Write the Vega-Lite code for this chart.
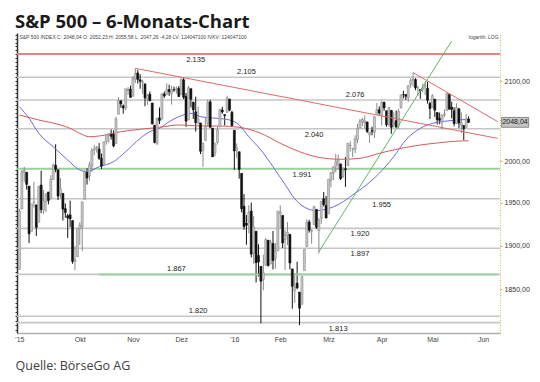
{
  "$schema": "https://vega.github.io/schema/vega-lite/v6.json",
  "width": 483,
  "height": 300,
  "autosize": {"type": "none"},
  "padding": {"left": 17, "top": 33, "right": 40, "bottom": 49},
  "background": "white",
  "title": {"text": "S&P 500 – 6-Monats-Chart", "anchor": "start", "frame": "group", "font": "Open Sans", "fontSize": 18.5, "fontWeight": "bold", "color": "#1a1a1a", "offset": -13, "dx": -2, "baseline": "alphabetic"},
  "config": {"view": {"stroke": null}, "font": "Liberation Sans"},
  "resolve": {"axis": {"y": "independent"}, "scale": {"color": "independent"}},
  "datasets": {
    "levels": [
      {"level": 2135, "t": "2.135", "d": "2015-12-09"},
      {"level": 2105, "t": "2.105", "d": "2016-01-11"},
      {"level": 2076, "t": "2.076", "d": "2016-03-16"},
      {"level": 2040, "t": "2.040", "d": "2016-02-22"},
      {"level": 1991, "t": "1.991", "d": "2016-02-12"},
      {"level": 1955, "t": "1.955", "d": "2016-04-01"},
      {"level": 1920, "t": "1.920", "d": "2016-03-18"},
      {"level": 1897, "t": "1.897", "d": "2016-03-18"},
      {"level": 1867, "t": "1.867", "d": "2015-11-27"},
      {"level": 1820, "t": "1.820", "d": "2015-12-10"},
      {"level": 1813, "t": "1.813", "d": "2016-03-07"}
    ],
    "ma": [
      {"s": "MA kurz", "d": "2015-08-26", "v": 2067.6}, {"s": "MA kurz", "d": "2015-09-01", "v": 2053.1}, {"s": "MA kurz", "d": "2015-09-08", "v": 2034.4}, {"s": "MA kurz", "d": "2015-09-16", "v": 2017.9}, {"s": "MA kurz", "d": "2015-09-24", "v": 2001.6}, {"s": "MA kurz", "d": "2015-10-01", "v": 1989.5}, {"s": "MA kurz", "d": "2015-10-06", "v": 1987.5}, {"s": "MA kurz", "d": "2015-10-13", "v": 1993.5}, {"s": "MA kurz", "d": "2015-10-21", "v": 1999.6}, {"s": "MA kurz", "d": "2015-10-28", "v": 2011.8}, {"s": "MA kurz", "d": "2015-11-05", "v": 2028.2}, {"s": "MA kurz", "d": "2015-11-11", "v": 2036.4}, {"s": "MA kurz", "d": "2015-11-17", "v": 2040.6}, {"s": "MA kurz", "d": "2015-11-23", "v": 2048.9}, {"s": "MA kurz", "d": "2015-11-30", "v": 2055.1}, {"s": "MA kurz", "d": "2015-12-07", "v": 2059.3}, {"s": "MA kurz", "d": "2015-12-11", "v": 2055.1}, {"s": "MA kurz", "d": "2015-12-18", "v": 2053.5}, {"s": "MA kurz", "d": "2015-12-30", "v": 2051.0}, {"s": "MA kurz", "d": "2016-01-06", "v": 2044.8}, {"s": "MA kurz", "d": "2016-01-12", "v": 2030.2}, {"s": "MA kurz", "d": "2016-01-20", "v": 2013.8}, {"s": "MA kurz", "d": "2016-01-27", "v": 1993.5}, {"s": "MA kurz", "d": "2016-02-03", "v": 1972.0}, {"s": "MA kurz", "d": "2016-02-09", "v": 1955.0}, {"s": "MA kurz", "d": "2016-02-16", "v": 1945.0}, {"s": "MA kurz", "d": "2016-02-23", "v": 1940.9}, {"s": "MA kurz", "d": "2016-02-29", "v": 1942.5}, {"s": "MA kurz", "d": "2016-03-08", "v": 1949.6}, {"s": "MA kurz", "d": "2016-03-15", "v": 1959.5}, {"s": "MA kurz", "d": "2016-03-18", "v": 1965.5}, {"s": "MA kurz", "d": "2016-03-31", "v": 1985.5}, {"s": "MA kurz", "d": "2016-04-08", "v": 2005.7}, {"s": "MA kurz", "d": "2016-04-15", "v": 2026.2}, {"s": "MA kurz", "d": "2016-04-25", "v": 2040.6}, {"s": "MA kurz", "d": "2016-05-02", "v": 2046.8}, {"s": "MA kurz", "d": "2016-05-10", "v": 2049.7}, {"s": "MA kurz", "d": "2016-05-17", "v": 2051.0}, {"s": "MA kurz", "d": "2016-05-23", "v": 2051.9},
      {"s": "MA 200", "d": "2015-08-26", "v": 2057.2}, {"s": "MA 200", "d": "2015-09-08", "v": 2051.0}, {"s": "MA 200", "d": "2015-09-21", "v": 2044.8}, {"s": "MA 200", "d": "2015-09-25", "v": 2040.6}, {"s": "MA 200", "d": "2015-10-01", "v": 2034.4}, {"s": "MA 200", "d": "2015-10-07", "v": 2030.2}, {"s": "MA 200", "d": "2015-10-13", "v": 2031.1}, {"s": "MA 200", "d": "2015-10-26", "v": 2036.4}, {"s": "MA 200", "d": "2015-11-05", "v": 2039.4}, {"s": "MA 200", "d": "2015-11-17", "v": 2041.9}, {"s": "MA 200", "d": "2015-11-30", "v": 2044.8}, {"s": "MA 200", "d": "2015-12-11", "v": 2043.5}, {"s": "MA 200", "d": "2015-12-23", "v": 2043.5}, {"s": "MA 200", "d": "2016-01-06", "v": 2041.9}, {"s": "MA 200", "d": "2016-01-20", "v": 2034.4}, {"s": "MA 200", "d": "2016-02-01", "v": 2022.1}, {"s": "MA 200", "d": "2016-02-11", "v": 2011.8}, {"s": "MA 200", "d": "2016-02-24", "v": 2004.9}, {"s": "MA 200", "d": "2016-03-08", "v": 2002.5}, {"s": "MA 200", "d": "2016-03-18", "v": 2003.7}, {"s": "MA 200", "d": "2016-03-31", "v": 2009.8}, {"s": "MA 200", "d": "2016-04-13", "v": 2015.9}, {"s": "MA 200", "d": "2016-04-25", "v": 2020.0}, {"s": "MA 200", "d": "2016-05-05", "v": 2022.8}, {"s": "MA 200", "d": "2016-05-17", "v": 2024.9}, {"s": "MA 200", "d": "2016-05-23", "v": 2025.2}
    ],
    "trend": [
      {"s": "Abwärtstrend 1", "d": "2015-11-03", "v": 2116.5}, {"s": "Abwärtstrend 1", "d": "2016-06-09", "v": 2028.2},
      {"s": "Abwärtstrend 2", "d": "2016-04-20", "v": 2111.0}, {"s": "Abwärtstrend 2", "d": "2016-06-09", "v": 2049.0},
      {"s": "Aufwärtstrend", "d": "2016-02-24", "v": 1893.0}, {"s": "Aufwärtstrend", "d": "2016-05-12", "v": 2152.0}
    ],
    "ohlc": [
      {"d":"2015-08-26","o":1872.75,"h":1943.09,"l":1872.75,"c":1940.51},
      {"d":"2015-08-27","o":1942.77,"h":1989.60,"l":1942.77,"c":1987.66},
      {"d":"2015-08-28","o":1986.06,"h":1993.48,"l":1975.19,"c":1988.87},
      {"d":"2015-08-31","o":1986.73,"h":1986.73,"l":1965.98,"c":1972.18},
      {"d":"2015-09-01","o":1970.09,"h":1970.09,"l":1903.07,"c":1913.85},
      {"d":"2015-09-02","o":1916.52,"h":1948.91,"l":1916.52,"c":1948.86},
      {"d":"2015-09-03","o":1950.79,"h":1975.01,"l":1944.72,"c":1951.13},
      {"d":"2015-09-04","o":1947.76,"h":1947.76,"l":1911.21,"c":1921.22},
      {"d":"2015-09-08","o":1927.30,"h":1970.42,"l":1927.30,"c":1969.41},
      {"d":"2015-09-09","o":1971.45,"h":1988.63,"l":1937.88,"c":1942.04},
      {"d":"2015-09-10","o":1941.59,"h":1965.29,"l":1937.19,"c":1952.29},
      {"d":"2015-09-11","o":1951.45,"h":1961.05,"l":1939.19,"c":1961.05},
      {"d":"2015-09-14","o":1963.06,"h":1963.06,"l":1948.27,"c":1953.03},
      {"d":"2015-09-15","o":1955.10,"h":1983.19,"l":1954.30,"c":1978.09},
      {"d":"2015-09-16","o":1978.02,"h":1997.26,"l":1977.93,"c":1995.31},
      {"d":"2015-09-17","o":1995.33,"h":2020.86,"l":1986.73,"c":1990.20},
      {"d":"2015-09-18","o":1989.66,"h":1989.66,"l":1953.45,"c":1958.03},
      {"d":"2015-09-21","o":1960.84,"h":1979.64,"l":1955.80,"c":1966.97},
      {"d":"2015-09-22","o":1961.39,"h":1961.39,"l":1929.22,"c":1942.74},
      {"d":"2015-09-23","o":1943.24,"h":1949.52,"l":1932.57,"c":1938.76},
      {"d":"2015-09-24","o":1934.81,"h":1937.17,"l":1908.92,"c":1932.24},
      {"d":"2015-09-25","o":1935.93,"h":1952.89,"l":1921.50,"c":1931.34},
      {"d":"2015-09-28","o":1929.18,"h":1929.18,"l":1879.21,"c":1881.77},
      {"d":"2015-09-29","o":1881.90,"h":1899.48,"l":1871.91,"c":1884.09},
      {"d":"2015-09-30","o":1887.14,"h":1920.53,"l":1887.14,"c":1920.03},
      {"d":"2015-10-01","o":1919.65,"h":1927.21,"l":1900.70,"c":1923.82},
      {"d":"2015-10-02","o":1921.77,"h":1951.36,"l":1893.70,"c":1951.36},
      {"d":"2015-10-05","o":1954.33,"h":1989.17,"l":1954.33,"c":1987.05},
      {"d":"2015-10-06","o":1986.63,"h":1991.62,"l":1971.99,"c":1979.92},
      {"d":"2015-10-07","o":1982.34,"h":1999.31,"l":1976.44,"c":1995.83},
      {"d":"2015-10-08","o":1994.01,"h":2016.50,"l":1987.53,"c":2013.43},
      {"d":"2015-10-09","o":2013.73,"h":2020.13,"l":2007.61,"c":2014.89},
      {"d":"2015-10-12","o":2015.65,"h":2018.66,"l":2010.55,"c":2017.46},
      {"d":"2015-10-13","o":2015.00,"h":2022.34,"l":2001.78,"c":2003.69},
      {"d":"2015-10-14","o":2003.66,"h":2009.56,"l":1990.73,"c":1994.24},
      {"d":"2015-10-15","o":1996.47,"h":2024.15,"l":1996.47,"c":2023.86},
      {"d":"2015-10-16","o":2024.37,"h":2033.54,"l":2020.46,"c":2033.11},
      {"d":"2015-10-19","o":2031.73,"h":2034.45,"l":2022.31,"c":2033.66},
      {"d":"2015-10-20","o":2033.13,"h":2039.12,"l":2026.61,"c":2030.77},
      {"d":"2015-10-21","o":2033.47,"h":2037.97,"l":2017.22,"c":2018.94},
      {"d":"2015-10-22","o":2021.88,"h":2055.20,"l":2021.88,"c":2052.51},
      {"d":"2015-10-23","o":2058.19,"h":2079.74,"l":2058.19,"c":2075.15},
      {"d":"2015-10-26","o":2075.08,"h":2075.14,"l":2066.53,"c":2071.18},
      {"d":"2015-10-27","o":2068.75,"h":2070.37,"l":2058.84,"c":2065.89},
      {"d":"2015-10-28","o":2066.48,"h":2090.35,"l":2063.11,"c":2090.35},
      {"d":"2015-10-29","o":2088.35,"h":2092.52,"l":2082.63,"c":2089.41},
      {"d":"2015-10-30","o":2090.00,"h":2094.32,"l":2079.34,"c":2079.36},
      {"d":"2015-11-02","o":2080.76,"h":2106.20,"l":2080.76,"c":2104.05},
      {"d":"2015-11-03","o":2102.63,"h":2116.48,"l":2097.51,"c":2109.79},
      {"d":"2015-11-04","o":2110.60,"h":2114.59,"l":2096.98,"c":2102.31},
      {"d":"2015-11-05","o":2101.68,"h":2108.78,"l":2090.41,"c":2099.93},
      {"d":"2015-11-06","o":2098.60,"h":2101.91,"l":2083.74,"c":2099.20},
      {"d":"2015-11-09","o":2096.56,"h":2096.56,"l":2068.24,"c":2078.58},
      {"d":"2015-11-10","o":2077.19,"h":2083.67,"l":2069.91,"c":2081.72},
      {"d":"2015-11-11","o":2083.41,"h":2086.94,"l":2074.85,"c":2075.00},
      {"d":"2015-11-12","o":2072.29,"h":2072.29,"l":2045.66,"c":2045.97},
      {"d":"2015-11-13","o":2044.64,"h":2044.64,"l":2022.02,"c":2023.04},
      {"d":"2015-11-16","o":2022.08,"h":2053.22,"l":2019.94,"c":2053.19},
      {"d":"2015-11-17","o":2053.67,"h":2066.69,"l":2045.90,"c":2050.44},
      {"d":"2015-11-18","o":2051.99,"h":2085.31,"l":2051.99,"c":2083.58},
      {"d":"2015-11-19","o":2083.70,"h":2086.74,"l":2078.76,"c":2081.24},
      {"d":"2015-11-20","o":2082.82,"h":2097.06,"l":2082.82,"c":2089.17},
      {"d":"2015-11-23","o":2089.41,"h":2095.61,"l":2081.39,"c":2086.59},
      {"d":"2015-11-24","o":2084.42,"h":2094.12,"l":2070.29,"c":2089.14},
      {"d":"2015-11-25","o":2089.30,"h":2093.00,"l":2086.30,"c":2088.87},
      {"d":"2015-11-27","o":2088.82,"h":2093.29,"l":2084.13,"c":2090.11},
      {"d":"2015-11-30","o":2090.95,"h":2093.81,"l":2080.41,"c":2080.41},
      {"d":"2015-12-01","o":2082.93,"h":2103.37,"l":2082.93,"c":2102.63},
      {"d":"2015-12-02","o":2101.71,"h":2104.27,"l":2077.11,"c":2079.51},
      {"d":"2015-12-03","o":2080.71,"h":2085.00,"l":2042.35,"c":2049.62},
      {"d":"2015-12-04","o":2051.24,"h":2093.84,"l":2051.24,"c":2091.69},
      {"d":"2015-12-07","o":2090.42,"h":2090.42,"l":2066.78,"c":2077.07},
      {"d":"2015-12-08","o":2073.39,"h":2073.85,"l":2052.32,"c":2063.59},
      {"d":"2015-12-09","o":2061.17,"h":2080.33,"l":2036.53,"c":2047.62},
      {"d":"2015-12-10","o":2047.93,"h":2067.65,"l":2045.67,"c":2052.23},
      {"d":"2015-12-11","o":2047.27,"h":2047.27,"l":2008.80,"c":2012.37},
      {"d":"2015-12-14","o":2013.37,"h":2022.92,"l":1993.26,"c":2021.94},
      {"d":"2015-12-15","o":2025.55,"h":2053.87,"l":2025.55,"c":2043.41},
      {"d":"2015-12-16","o":2046.50,"h":2076.72,"l":2042.43,"c":2073.07},
      {"d":"2015-12-17","o":2073.76,"h":2076.37,"l":2041.66,"c":2041.89},
      {"d":"2015-12-18","o":2040.81,"h":2040.81,"l":2005.33,"c":2005.55},
      {"d":"2015-12-21","o":2010.27,"h":2022.90,"l":2005.93,"c":2021.15},
      {"d":"2015-12-22","o":2023.15,"h":2042.74,"l":2020.49,"c":2038.97},
      {"d":"2015-12-23","o":2042.20,"h":2064.73,"l":2042.20,"c":2064.29},
      {"d":"2015-12-24","o":2063.52,"h":2067.36,"l":2058.73,"c":2060.99},
      {"d":"2015-12-28","o":2057.77,"h":2057.77,"l":2044.20,"c":2056.50},
      {"d":"2015-12-29","o":2060.54,"h":2081.56,"l":2060.54,"c":2078.36},
      {"d":"2015-12-30","o":2077.34,"h":2077.34,"l":2061.97,"c":2063.36},
      {"d":"2015-12-31","o":2060.59,"h":2062.54,"l":2043.62,"c":2043.94},
      {"d":"2016-01-04","o":2038.20,"h":2038.20,"l":1989.68,"c":2012.66},
      {"d":"2016-01-05","o":2013.78,"h":2021.94,"l":2004.17,"c":2016.71},
      {"d":"2016-01-06","o":2011.71,"h":2011.71,"l":1979.05,"c":1990.26},
      {"d":"2016-01-07","o":1985.32,"h":1985.32,"l":1938.83,"c":1943.09},
      {"d":"2016-01-08","o":1945.97,"h":1960.40,"l":1918.46,"c":1922.03},
      {"d":"2016-01-11","o":1926.12,"h":1935.65,"l":1901.10,"c":1923.67},
      {"d":"2016-01-12","o":1927.83,"h":1947.38,"l":1914.35,"c":1938.68},
      {"d":"2016-01-13","o":1940.34,"h":1950.33,"l":1886.41,"c":1890.28},
      {"d":"2016-01-14","o":1891.68,"h":1934.47,"l":1878.93,"c":1921.84},
      {"d":"2016-01-15","o":1916.68,"h":1916.68,"l":1857.83,"c":1880.33},
      {"d":"2016-01-19","o":1888.66,"h":1901.44,"l":1864.60,"c":1881.33},
      {"d":"2016-01-20","o":1876.18,"h":1876.18,"l":1812.29,"c":1859.33},
      {"d":"2016-01-21","o":1861.46,"h":1889.85,"l":1848.98,"c":1868.99},
      {"d":"2016-01-22","o":1877.40,"h":1908.85,"l":1877.40,"c":1906.90},
      {"d":"2016-01-25","o":1906.28,"h":1906.28,"l":1875.97,"c":1877.08},
      {"d":"2016-01-26","o":1878.79,"h":1906.73,"l":1878.79,"c":1903.63},
      {"d":"2016-01-27","o":1902.52,"h":1916.99,"l":1872.70,"c":1882.95},
      {"d":"2016-01-28","o":1885.22,"h":1902.96,"l":1873.65,"c":1893.36},
      {"d":"2016-01-29","o":1894.00,"h":1940.24,"l":1894.00,"c":1940.24},
      {"d":"2016-02-01","o":1936.94,"h":1947.20,"l":1920.03,"c":1939.38},
      {"d":"2016-02-02","o":1935.26,"h":1935.26,"l":1897.29,"c":1903.03},
      {"d":"2016-02-03","o":1907.07,"h":1918.01,"l":1872.23,"c":1912.53},
      {"d":"2016-02-04","o":1911.67,"h":1927.35,"l":1900.52,"c":1915.45},
      {"d":"2016-02-05","o":1913.07,"h":1913.07,"l":1872.65,"c":1880.05},
      {"d":"2016-02-08","o":1873.25,"h":1873.25,"l":1828.46,"c":1853.44},
      {"d":"2016-02-09","o":1848.46,"h":1868.25,"l":1834.94,"c":1852.21},
      {"d":"2016-02-10","o":1857.10,"h":1881.60,"l":1850.32,"c":1851.86},
      {"d":"2016-02-11","o":1847.00,"h":1847.00,"l":1810.10,"c":1829.08},
      {"d":"2016-02-12","o":1833.40,"h":1864.78,"l":1833.40,"c":1864.78},
      {"d":"2016-02-16","o":1871.44,"h":1895.77,"l":1871.44,"c":1895.58},
      {"d":"2016-02-17","o":1898.80,"h":1930.68,"l":1898.80,"c":1926.82},
      {"d":"2016-02-18","o":1927.57,"h":1930.00,"l":1915.09,"c":1917.83},
      {"d":"2016-02-19","o":1916.74,"h":1918.78,"l":1902.17,"c":1917.78},
      {"d":"2016-02-22","o":1924.44,"h":1946.70,"l":1924.44,"c":1945.50},
      {"d":"2016-02-23","o":1942.38,"h":1942.38,"l":1919.44,"c":1921.27},
      {"d":"2016-02-24","o":1917.56,"h":1932.08,"l":1891.00,"c":1929.80},
      {"d":"2016-02-25","o":1931.87,"h":1951.83,"l":1925.41,"c":1951.70},
      {"d":"2016-02-26","o":1954.95,"h":1962.96,"l":1945.78,"c":1948.05},
      {"d":"2016-02-29","o":1947.13,"h":1958.27,"l":1931.81,"c":1932.23},
      {"d":"2016-03-01","o":1937.09,"h":1978.35,"l":1937.09,"c":1978.35},
      {"d":"2016-03-02","o":1976.60,"h":1986.51,"l":1968.80,"c":1986.45},
      {"d":"2016-03-03","o":1985.60,"h":1993.69,"l":1977.37,"c":1993.40},
      {"d":"2016-03-04","o":1994.01,"h":2009.13,"l":1986.77,"c":1999.99},
      {"d":"2016-03-07","o":1996.11,"h":2008.16,"l":1989.30,"c":2001.76},
      {"d":"2016-03-08","o":1996.88,"h":1996.88,"l":1977.43,"c":1979.26},
      {"d":"2016-03-09","o":1981.44,"h":1992.69,"l":1979.84,"c":1989.26},
      {"d":"2016-03-10","o":1990.97,"h":2005.08,"l":1969.25,"c":1989.57},
      {"d":"2016-03-11","o":1994.71,"h":2022.37,"l":1994.71,"c":2022.19},
      {"d":"2016-03-14","o":2019.27,"h":2024.57,"l":2012.05,"c":2019.64},
      {"d":"2016-03-15","o":2015.27,"h":2015.94,"l":2005.23,"c":2015.93},
      {"d":"2016-03-16","o":2014.24,"h":2032.02,"l":2010.04,"c":2027.22},
      {"d":"2016-03-17","o":2026.90,"h":2046.24,"l":2022.16,"c":2040.59},
      {"d":"2016-03-18","o":2041.16,"h":2052.36,"l":2041.16,"c":2049.58},
      {"d":"2016-03-21","o":2048.64,"h":2053.91,"l":2043.14,"c":2051.60},
      {"d":"2016-03-22","o":2047.21,"h":2056.60,"l":2040.57,"c":2049.80},
      {"d":"2016-03-23","o":2048.55,"h":2048.55,"l":2034.86,"c":2036.71},
      {"d":"2016-03-24","o":2032.48,"h":2036.04,"l":2022.49,"c":2035.94},
      {"d":"2016-03-28","o":2037.89,"h":2042.67,"l":2031.96,"c":2037.05},
      {"d":"2016-03-29","o":2035.75,"h":2055.91,"l":2028.31,"c":2055.01},
      {"d":"2016-03-30","o":2058.27,"h":2072.21,"l":2058.27,"c":2063.95},
      {"d":"2016-03-31","o":2063.77,"h":2067.92,"l":2057.46,"c":2059.74},
      {"d":"2016-04-01","o":2056.62,"h":2075.07,"l":2043.98,"c":2072.78},
      {"d":"2016-04-04","o":2073.19,"h":2074.02,"l":2062.57,"c":2066.13},
      {"d":"2016-04-05","o":2062.50,"h":2062.50,"l":2042.56,"c":2045.17},
      {"d":"2016-04-06","o":2045.56,"h":2067.33,"l":2043.09,"c":2066.66},
      {"d":"2016-04-07","o":2063.01,"h":2063.01,"l":2033.80,"c":2041.91},
      {"d":"2016-04-08","o":2045.54,"h":2060.63,"l":2041.69,"c":2047.60},
      {"d":"2016-04-11","o":2050.23,"h":2062.93,"l":2041.88,"c":2041.99},
      {"d":"2016-04-12","o":2043.72,"h":2065.05,"l":2039.74,"c":2061.72},
      {"d":"2016-04-13","o":2065.92,"h":2083.18,"l":2065.92,"c":2082.42},
      {"d":"2016-04-14","o":2082.89,"h":2087.84,"l":2078.13,"c":2082.78},
      {"d":"2016-04-15","o":2083.10,"h":2083.22,"l":2076.31,"c":2080.73},
      {"d":"2016-04-18","o":2078.83,"h":2094.66,"l":2073.65,"c":2094.34},
      {"d":"2016-04-19","o":2096.05,"h":2104.05,"l":2091.68,"c":2100.80},
      {"d":"2016-04-20","o":2101.52,"h":2111.05,"l":2093.11,"c":2102.40},
      {"d":"2016-04-21","o":2102.09,"h":2103.78,"l":2088.52,"c":2091.48},
      {"d":"2016-04-22","o":2091.49,"h":2094.32,"l":2081.20,"c":2091.58},
      {"d":"2016-04-25","o":2089.37,"h":2089.37,"l":2077.52,"c":2087.79},
      {"d":"2016-04-26","o":2089.84,"h":2096.87,"l":2085.80,"c":2091.70},
      {"d":"2016-04-27","o":2092.57,"h":2099.89,"l":2082.31,"c":2095.15},
      {"d":"2016-04-28","o":2090.93,"h":2099.30,"l":2071.62,"c":2075.81},
      {"d":"2016-04-29","o":2071.82,"h":2073.85,"l":2052.28,"c":2065.30},
      {"d":"2016-05-02","o":2067.17,"h":2083.42,"l":2066.11,"c":2081.43},
      {"d":"2016-05-03","o":2077.18,"h":2077.18,"l":2054.89,"c":2063.37},
      {"d":"2016-05-04","o":2060.30,"h":2060.30,"l":2045.55,"c":2051.12},
      {"d":"2016-05-05","o":2052.95,"h":2060.23,"l":2045.77,"c":2050.63},
      {"d":"2016-05-06","o":2047.77,"h":2057.72,"l":2039.45,"c":2057.14},
      {"d":"2016-05-09","o":2057.55,"h":2064.15,"l":2054.31,"c":2058.69},
      {"d":"2016-05-10","o":2062.63,"h":2084.87,"l":2062.63,"c":2084.39},
      {"d":"2016-05-11","o":2083.29,"h":2083.29,"l":2064.46,"c":2064.46},
      {"d":"2016-05-12","o":2067.17,"h":2073.99,"l":2053.13,"c":2064.11},
      {"d":"2016-05-13","o":2062.50,"h":2066.79,"l":2043.13,"c":2046.61},
      {"d":"2016-05-16","o":2046.53,"h":2071.88,"l":2046.53,"c":2066.66},
      {"d":"2016-05-17","o":2065.04,"h":2065.69,"l":2040.82,"c":2047.21},
      {"d":"2016-05-18","o":2044.38,"h":2060.61,"l":2034.49,"c":2047.63},
      {"d":"2016-05-19","o":2044.21,"h":2044.21,"l":2025.91,"c":2040.04},
      {"d":"2016-05-20","o":2041.88,"h":2058.35,"l":2041.88,"c":2052.32},
      {"d":"2016-05-23","o":2052.23,"h":2055.58,"l":2047.26,"c":2048.04}
    ]
  },
  "layer": [
    {
      "data": {"name": "levels"},
      "transform": [{"filter": {"not": {"field": "level", "oneOf": [2135, 1991]}}}],
      "mark": {"type": "rule", "color": "#c6c6c6", "strokeWidth": 1.6},
      "encoding": {
        "y": {"field": "level", "type": "quantitative", "scale": {"type": "log", "domain": [1801.6, 2162.5], "nice": false, "zero": false},
              "axis": {"orient": "left", "labels": false, "title": null, "grid": false, "domainColor": "#333333", "domainWidth": 1.5, "tickColor": "#333333", "tickSize": 2, "tickCount": 80}}
      }
    },
    {
      "data": {"name": "levels"},
      "transform": [{"filter": {"field": "level", "equal": 2135}}],
      "mark": {"type": "rule", "color": "#e08484", "strokeWidth": 2},
      "encoding": {
        "y": {"field": "level", "type": "quantitative", "scale": {"type": "log", "domain": [1801.6, 2162.5], "nice": false, "zero": false}, "axis": null}
      }
    },
    {
      "data": {"name": "levels"},
      "transform": [{"filter": {"field": "level", "equal": 1991}}],
      "mark": {"type": "rule", "color": "#9ccf9c", "strokeWidth": 2},
      "encoding": {
        "y": {"field": "level", "type": "quantitative", "scale": {"type": "log", "domain": [1801.6, 2162.5], "nice": false, "zero": false}, "axis": null}
      }
    },
    {
      "data": {"name": "ohlc"},
      "mark": {"type": "rule", "strokeWidth": 1},
      "encoding": {
        "x": {"field": "d", "type": "ordinal",
              "scale": {"type": "point", "padding": 1, "domain": ["2015-08-26","2015-08-27","2015-08-28","2015-08-31","2015-09-01","2015-09-02","2015-09-03","2015-09-04","2015-09-08","2015-09-09","2015-09-10","2015-09-11","2015-09-14","2015-09-15","2015-09-16","2015-09-17","2015-09-18","2015-09-21","2015-09-22","2015-09-23","2015-09-24","2015-09-25","2015-09-28","2015-09-29","2015-09-30","2015-10-01","2015-10-02","2015-10-05","2015-10-06","2015-10-07","2015-10-08","2015-10-09","2015-10-12","2015-10-13","2015-10-14","2015-10-15","2015-10-16","2015-10-19","2015-10-20","2015-10-21","2015-10-22","2015-10-23","2015-10-26","2015-10-27","2015-10-28","2015-10-29","2015-10-30","2015-11-02","2015-11-03","2015-11-04","2015-11-05","2015-11-06","2015-11-09","2015-11-10","2015-11-11","2015-11-12","2015-11-13","2015-11-16","2015-11-17","2015-11-18","2015-11-19","2015-11-20","2015-11-23","2015-11-24","2015-11-25","2015-11-27","2015-11-30","2015-12-01","2015-12-02","2015-12-03","2015-12-04","2015-12-07","2015-12-08","2015-12-09","2015-12-10","2015-12-11","2015-12-14","2015-12-15","2015-12-16","2015-12-17","2015-12-18","2015-12-21","2015-12-22","2015-12-23","2015-12-24","2015-12-28","2015-12-29","2015-12-30","2015-12-31","2016-01-04","2016-01-05","2016-01-06","2016-01-07","2016-01-08","2016-01-11","2016-01-12","2016-01-13","2016-01-14","2016-01-15","2016-01-19","2016-01-20","2016-01-21","2016-01-22","2016-01-25","2016-01-26","2016-01-27","2016-01-28","2016-01-29","2016-02-01","2016-02-02","2016-02-03","2016-02-04","2016-02-05","2016-02-08","2016-02-09","2016-02-10","2016-02-11","2016-02-12","2016-02-16","2016-02-17","2016-02-18","2016-02-19","2016-02-22","2016-02-23","2016-02-24","2016-02-25","2016-02-26","2016-02-29","2016-03-01","2016-03-02","2016-03-03","2016-03-04","2016-03-07","2016-03-08","2016-03-09","2016-03-10","2016-03-11","2016-03-14","2016-03-15","2016-03-16","2016-03-17","2016-03-18","2016-03-21","2016-03-22","2016-03-23","2016-03-24","2016-03-28","2016-03-29","2016-03-30","2016-03-31","2016-04-01","2016-04-04","2016-04-05","2016-04-06","2016-04-07","2016-04-08","2016-04-11","2016-04-12","2016-04-13","2016-04-14","2016-04-15","2016-04-18","2016-04-19","2016-04-20","2016-04-21","2016-04-22","2016-04-25","2016-04-26","2016-04-27","2016-04-28","2016-04-29","2016-05-02","2016-05-03","2016-05-04","2016-05-05","2016-05-06","2016-05-09","2016-05-10","2016-05-11","2016-05-12","2016-05-13","2016-05-16","2016-05-17","2016-05-18","2016-05-19","2016-05-20","2016-05-23","2016-05-24","2016-05-25","2016-05-26","2016-05-27","2016-05-31","2016-06-01","2016-06-02","2016-06-03","2016-06-06","2016-06-07","2016-06-08","2016-06-09"]},
              "axis": {"values": ["2015-08-26","2015-10-01","2015-11-02","2015-12-01","2016-01-04","2016-02-01","2016-03-01","2016-04-01","2016-05-02","2016-06-01"],
                       "labelExpr": "datum.value == '2015-08-26' ? \"'15\" : datum.value == '2016-01-04' ? \"'16\" : ['Jan','Feb','Mrz','Apr','Mai','Jun','Jul','Aug','Sep','Okt','Nov','Dez'][toNumber(slice(datum.value, 5, 7)) - 1]",
                       "labelAngle": 0, "labelOverlap": false, "labelFontSize": 7, "labelFont": "Liberation Sans", "labelColor": "#444444", "labelPadding": 2,
                       "ticks": false, "grid": false, "domainColor": "#b0b0b0", "domainWidth": 1.5,
                       "title": "Quelle: BörseGo AG", "titleFont": "Open Sans", "titleFontSize": 12.5, "titleFontWeight": "normal", "titleColor": "#404040",
                       "titleAnchor": "start", "titleAlign": "left", "titleX": -2, "titleY": 36, "titleBaseline": "alphabetic"}},
        "y": {"field": "l", "type": "quantitative", "scale": {"type": "log", "domain": [1801.6, 2162.5], "nice": false, "zero": false},
              "axis": {"orient": "right", "values": [1850, 1900, 1950, 2000, 2100], "labelExpr": "replace(format(datum.value, '.2f'), '.', ',')", "title": null, "grid": false,
                       "domainColor": "#d4b24c", "domainDash": [1, 1.5], "domainWidth": 1, "tickColor": "#d4b24c", "tickSize": 2,
                       "labelFontSize": 7, "labelFont": "Liberation Sans", "labelColor": "#333333", "labelPadding": 2}},
        "y2": {"field": "h"},
        "color": {"condition": {"test": "datum.c >= datum.o", "value": "#8a8a8a"}, "value": "#111111"}
      }
    },
    {
      "data": {"name": "levels"},
      "transform": [{"filter": {"field": "level", "equal": 1867}}],
      "mark": {"type": "rule", "color": "#9ccf9c", "strokeWidth": 2},
      "encoding": {
        "x": {"datum": "2015-10-13", "type": "ordinal", "scale": {"type": "point", "padding": 1}},
        "x2": {"datum": "2016-06-09"},
        "y": {"field": "level", "type": "quantitative", "scale": {"type": "log", "domain": [1801.6, 2162.5], "nice": false, "zero": false}, "axis": null}
      }
    },
    {
      "data": {"name": "ma"},
      "mark": {"type": "line", "strokeWidth": 1, "interpolate": "monotone"},
      "encoding": {
        "x": {"field": "d", "type": "ordinal", "scale": {"type": "point", "padding": 1}},
        "y": {"field": "v", "type": "quantitative", "scale": {"type": "log", "domain": [1801.6, 2162.5], "nice": false, "zero": false}, "axis": null},
        "color": {"field": "s", "type": "nominal", "scale": {"domain": ["MA kurz", "MA 200"], "range": ["#6a6ad8", "#d65a5a"]}, "legend": null}
      }
    },
    {
      "data": {"name": "ohlc"},
      "mark": {"type": "bar", "size": 2, "strokeWidth": 0.6},
      "encoding": {
        "x": {"field": "d", "type": "ordinal", "scale": {"type": "point", "padding": 1}},
        "y": {"field": "o", "type": "quantitative", "scale": {"type": "log", "domain": [1801.6, 2162.5], "nice": false, "zero": false}, "axis": null},
        "y2": {"field": "c"},
        "fill": {"condition": {"test": "datum.c >= datum.o", "value": "#c8c8c8"}, "value": "#111111"},
        "stroke": {"condition": {"test": "datum.c >= datum.o", "value": "#8a8a8a"}, "value": "#111111"}
      }
    },
    {
      "data": {"name": "trend"},
      "mark": {"type": "line", "strokeWidth": 1},
      "encoding": {
        "x": {"field": "d", "type": "ordinal", "scale": {"type": "point", "padding": 1}},
        "y": {"field": "v", "type": "quantitative", "scale": {"type": "log", "domain": [1801.6, 2162.5], "nice": false, "zero": false}, "axis": null},
        "color": {"field": "s", "type": "nominal", "scale": {"domain": ["Abwärtstrend 1", "Abwärtstrend 2", "Aufwärtstrend"], "range": ["#e06a6a", "#e06a6a", "#62b862"]}, "legend": null}
      }
    },
    {
      "data": {"name": "levels"},
      "transform": [{"filter": {"field": "level", "oneOf": [2105, 2076, 1867, 1820]}}],
      "mark": {"type": "text", "dy": -5, "fontSize": 7.5, "font": "Liberation Sans", "color": "#222222", "align": "center", "baseline": "middle"},
      "encoding": {
        "x": {"field": "d", "type": "ordinal", "scale": {"type": "point", "padding": 1}},
        "y": {"field": "level", "type": "quantitative", "scale": {"type": "log", "domain": [1801.6, 2162.5], "nice": false, "zero": false}, "axis": null},
        "text": {"field": "t"}
      }
    },
    {
      "data": {"name": "levels"},
      "transform": [{"filter": {"field": "level", "oneOf": [2135, 2040, 1991, 1955, 1920, 1897, 1813]}}],
      "mark": {"type": "text", "dy": 6, "fontSize": 7.5, "font": "Liberation Sans", "color": "#222222", "align": "center", "baseline": "middle"},
      "encoding": {
        "x": {"field": "d", "type": "ordinal", "scale": {"type": "point", "padding": 1}},
        "y": {"field": "level", "type": "quantitative", "scale": {"type": "log", "domain": [1801.6, 2162.5], "nice": false, "zero": false}, "axis": null},
        "text": {"field": "t"}
      }
    },
    {
      "data": {"values": [{}]},
      "mark": {"type": "text", "fontSize": 5, "font": "Liberation Sans", "color": "#444444", "align": "left", "baseline": "middle", "text": "S&P 500 INDEX C: 2048,04 O: 2052,23 H: 2055,58 L: 2047,26 -4,28 LV: 124047100 fVKV: 124047100"},
      "encoding": {
        "x": {"datum": "2015-08-26", "type": "ordinal", "scale": {"type": "point", "padding": 1}},
        "y": {"datum": 2157, "type": "quantitative", "scale": {"type": "log", "domain": [1801.6, 2162.5], "nice": false, "zero": false}, "axis": null}
      }
    },
    {
      "data": {"values": [{}]},
      "mark": {"type": "text", "fontSize": 5, "font": "Liberation Sans", "color": "#444444", "align": "right", "baseline": "middle", "dx": 1, "text": "logarith. LOG"},
      "encoding": {
        "x": {"datum": "2016-06-09", "type": "ordinal", "scale": {"type": "point", "padding": 1}},
        "y": {"datum": 2157, "type": "quantitative", "scale": {"type": "log", "domain": [1801.6, 2162.5], "nice": false, "zero": false}, "axis": null}
      }
    },
    {
      "data": {"name": "ohlc"},
      "transform": [{"filter": {"field": "d", "equal": "2016-05-23"}}],
      "mark": {"type": "point", "shape": "M0.27,-0.33H2.07V0.33H0.27Z", "size": 900, "filled": true, "fill": "#c4c4c4", "stroke": "#555555", "strokeWidth": 0.6, "opacity": 1},
      "encoding": {
        "x": {"datum": "2016-06-09", "type": "ordinal", "scale": {"type": "point", "padding": 1}},
        "y": {"field": "c", "type": "quantitative", "scale": {"type": "log", "domain": [1801.6, 2162.5], "nice": false, "zero": false}, "axis": null}
      }
    },
    {
      "data": {"name": "ohlc"},
      "transform": [{"filter": {"field": "d", "equal": "2016-05-23"}}],
      "mark": {"type": "text", "fontSize": 7, "font": "Liberation Sans", "color": "#222222", "align": "center", "baseline": "middle", "dx": 17.5, "text": "2048,04"},
      "encoding": {
        "x": {"datum": "2016-06-09", "type": "ordinal", "scale": {"type": "point", "padding": 1}},
        "y": {"field": "c", "type": "quantitative", "scale": {"type": "log", "domain": [1801.6, 2162.5], "nice": false, "zero": false}, "axis": null}
      }
    }
  ]
}
